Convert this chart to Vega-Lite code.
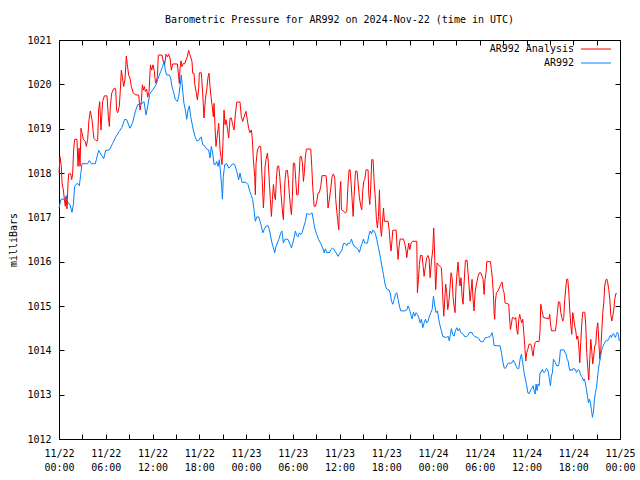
{
"$schema": "https://vega.github.io/schema/vega-lite/v6.json",
"width": 561, "height": 399,
"autosize": "none",
"padding": {"left": 59, "top": 40, "right": 20, "bottom": 41},
"background": "white",
"title": {"text": "Barometric Pressure for AR992 on 2024-Nov-22 (time in UTC)", "font": "DejaVu Sans Mono", "fontSize": 10, "fontWeight": "normal", "offset": 10, "color": "black"},
"config": {
 "view": {"stroke": "black", "strokeWidth": 1},
 "font": "DejaVu Sans Mono",
 "axis": {"domain": false, "grid": false, "ticks": true, "tickSize": -5, "tickColor": "black", "labelFont": "DejaVu Sans Mono", "labelFontSize": 10, "labelColor": "black", "titleFont": "DejaVu Sans Mono", "titleFontSize": 10, "titleFontWeight": "normal", "titleColor": "black"}
},
"datasets": {
"ana": [
{"h":0,"p":1018.00},{"h":0.13,"p":1018.37},{"h":0.30,"p":1018.15},{"h":0.39,"p":1017.77},{"h":0.56,"p":1017.62},{"h":0.69,"p":1017.40},{"h":0.81,"p":1017.25},{"h":0.90,"p":1017.47},{"h":1.03,"p":1017.19},{"h":1.16,"p":1017.77},{"h":1.24,"p":1017.98},{"h":1.50,"p":1017.98},{"h":1.63,"p":1017.85},{"h":1.75,"p":1017.98},{"h":1.88,"p":1018.52},{"h":2.01,"p":1018.76},{"h":2.31,"p":1018.76},{"h":2.44,"p":1018.15},{"h":2.57,"p":1018.56},{"h":2.70,"p":1018.15},{"h":2.82,"p":1019.01},{"h":2.95,"p":1018.91},{"h":3.12,"p":1018.76},{"h":3.38,"p":1018.71},{"h":3.51,"p":1018.60},{"h":3.68,"p":1018.76},{"h":3.85,"p":1019.20},{"h":4.02,"p":1019.40},{"h":4.24,"p":1019.20},{"h":4.36,"p":1018.97},{"h":4.49,"p":1018.78},{"h":4.75,"p":1018.73},{"h":4.96,"p":1018.73},{"h":5.09,"p":1019.42},{"h":5.22,"p":1019.61},{"h":5.39,"p":1018.97},{"h":5.60,"p":1019.61},{"h":5.82,"p":1019.74},{"h":6.16,"p":1019.74},{"h":6.33,"p":1019.29},{"h":6.46,"p":1019.05},{"h":6.59,"p":1019.50},{"h":6.76,"p":1019.80},{"h":7.02,"p":1019.90},{"h":7.27,"p":1019.90},{"h":7.40,"p":1019.41},{"h":7.53,"p":1019.36},{"h":7.74,"p":1019.50},{"h":7.87,"p":1019.87},{"h":8.00,"p":1020.32},{"h":8.13,"p":1020.17},{"h":8.30,"p":1019.95},{"h":8.47,"p":1020.10},{"h":8.64,"p":1020.64},{"h":8.77,"p":1020.44},{"h":8.94,"p":1020.21},{"h":9.11,"p":1020.14},{"h":9.28,"p":1019.95},{"h":9.54,"p":1019.80},{"h":9.88,"p":1019.76},{"h":10.23,"p":1019.76},{"h":10.40,"p":1019.42},{"h":10.57,"p":1019.61},{"h":10.70,"p":1019.99},{"h":10.83,"p":1019.87},{"h":10.96,"p":1019.95},{"h":11.08,"p":1019.84},{"h":11.26,"p":1019.89},{"h":11.38,"p":1019.71},{"h":11.56,"p":1019.84},{"h":11.73,"p":1020.44},{"h":11.90,"p":1020.32},{"h":12.07,"p":1020.44},{"h":12.24,"p":1020.29},{"h":12.37,"p":1020.06},{"h":12.45,"p":1020.02},{"h":12.62,"p":1020.17},{"h":12.75,"p":1020.66},{"h":13.22,"p":1020.66},{"h":13.39,"p":1020.51},{"h":13.56,"p":1020.44},{"h":13.73,"p":1020.68},{"h":13.91,"p":1020.62},{"h":14.08,"p":1020.68},{"h":14.25,"p":1020.59},{"h":14.42,"p":1020.32},{"h":14.59,"p":1020.46},{"h":15.19,"p":1020.46},{"h":15.36,"p":1020.17},{"h":15.45,"p":1020.02},{"h":15.53,"p":1020.36},{"h":15.66,"p":1020.53},{"h":15.79,"p":1020.40},{"h":15.96,"p":1020.47},{"h":16.13,"p":1020.46},{"h":16.30,"p":1020.55},{"h":16.47,"p":1020.62},{"h":16.64,"p":1020.77},{"h":16.73,"p":1020.70},{"h":16.90,"p":1020.62},{"h":17.07,"p":1020.51},{"h":17.16,"p":1020.25},{"h":17.33,"p":1020.25},{"h":17.41,"p":1020.02},{"h":17.59,"p":1019.84},{"h":17.76,"p":1019.65},{"h":17.93,"p":1019.91},{"h":18.01,"p":1020.26},{"h":18.27,"p":1020.26},{"h":18.44,"p":1019.80},{"h":18.61,"p":1019.24},{"h":18.78,"p":1019.65},{"h":18.95,"p":1019.87},{"h":19.13,"p":1020.17},{"h":19.25,"p":1020.25},{"h":19.38,"p":1019.95},{"h":19.51,"p":1019.72},{"h":19.64,"p":1019.54},{"h":19.81,"p":1019.27},{"h":19.90,"p":1019.57},{"h":20.02,"p":1019.05},{"h":20.15,"p":1018.60},{"h":20.32,"p":1018.86},{"h":20.50,"p":1019.12},{"h":20.67,"p":1018.52},{"h":20.79,"p":1018.37},{"h":20.92,"p":1018.19},{"h":21.05,"p":1018.71},{"h":21.18,"p":1019.42},{"h":21.31,"p":1019.09},{"h":21.44,"p":1019.20},{"h":21.61,"p":1019.01},{"h":21.78,"p":1018.79},{"h":21.95,"p":1019.24},{"h":22.12,"p":1019.24},{"h":22.29,"p":1019.09},{"h":22.46,"p":1018.97},{"h":22.63,"p":1019.31},{"h":22.81,"p":1019.60},{"h":23.23,"p":1019.60},{"h":23.40,"p":1019.27},{"h":23.57,"p":1019.16},{"h":23.83,"p":1019.31},{"h":24.00,"p":1019.39},{"h":24.17,"p":1019.20},{"h":24.34,"p":1019.01},{"h":24.51,"p":1018.91},{"h":24.69,"p":1018.97},{"h":24.82,"p":1018.75},{"h":24.95,"p":1018.30},{"h":25.12,"p":1017.92},{"h":25.20,"p":1017.51},{"h":25.29,"p":1018.22},{"h":25.46,"p":1018.52},{"h":25.68,"p":1018.60},{"h":25.89,"p":1018.60},{"h":26.02,"p":1018.07},{"h":26.15,"p":1017.55},{"h":26.23,"p":1017.21},{"h":26.32,"p":1017.47},{"h":26.45,"p":1018.15},{"h":26.57,"p":1018.30},{"h":26.75,"p":1018.45},{"h":26.87,"p":1018.22},{"h":27.00,"p":1017.77},{"h":27.13,"p":1017.40},{"h":27.26,"p":1017.02},{"h":27.39,"p":1017.40},{"h":27.52,"p":1017.74},{"h":27.64,"p":1017.51},{"h":27.77,"p":1017.40},{"h":27.90,"p":1017.85},{"h":28.03,"p":1018.15},{"h":28.20,"p":1018.16},{"h":28.33,"p":1017.92},{"h":28.46,"p":1017.62},{"h":28.59,"p":1017.32},{"h":28.71,"p":1017.06},{"h":28.80,"p":1016.95},{"h":28.88,"p":1017.32},{"h":29.01,"p":1017.85},{"h":29.14,"p":1018.06},{"h":29.31,"p":1018.06},{"h":29.44,"p":1017.85},{"h":29.57,"p":1017.51},{"h":29.70,"p":1017.25},{"h":29.83,"p":1017.06},{"h":29.95,"p":1017.47},{"h":30.08,"p":1018.22},{"h":30.25,"p":1018.22},{"h":30.38,"p":1017.85},{"h":30.51,"p":1017.51},{"h":30.68,"p":1017.51},{"h":30.81,"p":1017.92},{"h":30.94,"p":1018.37},{"h":31.11,"p":1018.37},{"h":31.24,"p":1018.22},{"h":31.37,"p":1017.81},{"h":31.50,"p":1018.04},{"h":31.62,"p":1018.37},{"h":31.75,"p":1018.54},{"h":32.31,"p":1018.54},{"h":32.44,"p":1018.15},{"h":32.56,"p":1017.70},{"h":32.74,"p":1017.25},{"h":32.91,"p":1017.25},{"h":33.08,"p":1017.36},{"h":33.25,"p":1017.55},{"h":33.42,"p":1017.56},{"h":33.59,"p":1017.70},{"h":33.76,"p":1017.94},{"h":34.28,"p":1017.94},{"h":34.40,"p":1017.66},{"h":34.53,"p":1017.21},{"h":34.70,"p":1017.40},{"h":34.88,"p":1017.66},{"h":35.05,"p":1017.92},{"h":35.22,"p":1017.98},{"h":35.39,"p":1017.89},{"h":35.52,"p":1017.40},{"h":35.65,"p":1017.14},{"h":35.82,"p":1016.85},{"h":35.91,"p":1016.72},{"h":36.03,"p":1017.51},{"h":36.16,"p":1017.81},{"h":36.25,"p":1017.17},{"h":36.50,"p":1017.14},{"h":36.76,"p":1017.10},{"h":36.93,"p":1017.14},{"h":37.10,"p":1017.77},{"h":37.23,"p":1018.07},{"h":37.36,"p":1018.07},{"h":37.49,"p":1017.77},{"h":37.62,"p":1017.40},{"h":37.75,"p":1017.02},{"h":37.87,"p":1017.47},{"h":38.05,"p":1018.04},{"h":38.26,"p":1018.04},{"h":38.39,"p":1017.77},{"h":38.56,"p":1017.44},{"h":38.73,"p":1017.25},{"h":38.86,"p":1017.17},{"h":38.99,"p":1017.62},{"h":39.11,"p":1017.81},{"h":39.24,"p":1017.85},{"h":39.41,"p":1018.07},{"h":39.67,"p":1018.07},{"h":39.76,"p":1017.51},{"h":39.89,"p":1017.29},{"h":40.01,"p":1017.70},{"h":40.14,"p":1018.30},{"h":40.31,"p":1018.30},{"h":40.44,"p":1017.81},{"h":40.61,"p":1017.40},{"h":40.74,"p":1016.95},{"h":40.87,"p":1016.76},{"h":41.00,"p":1017.02},{"h":41.13,"p":1017.62},{"h":41.25,"p":1016.80},{"h":41.38,"p":1016.57},{"h":41.51,"p":1016.87},{"h":41.64,"p":1017.21},{"h":41.77,"p":1016.91},{"h":42.24,"p":1016.91},{"h":42.37,"p":1016.72},{"h":42.50,"p":1016.42},{"h":42.62,"p":1016.24},{"h":42.75,"p":1016.50},{"h":42.84,"p":1016.71},{"h":43.27,"p":1016.71},{"h":43.39,"p":1016.35},{"h":43.52,"p":1016.05},{"h":43.65,"p":1016.35},{"h":43.78,"p":1016.51},{"h":44.21,"p":1016.51},{"h":44.38,"p":1016.41},{"h":44.55,"p":1016.24},{"h":44.63,"p":1016.09},{"h":44.76,"p":1016.27},{"h":44.89,"p":1016.42},{"h":45.02,"p":1016.27},{"h":45.19,"p":1016.42},{"h":45.40,"p":1016.46},{"h":45.92,"p":1016.46},{"h":46.00,"p":1015.30},{"h":46.13,"p":1015.60},{"h":46.26,"p":1015.94},{"h":46.39,"p":1016.14},{"h":46.60,"p":1016.14},{"h":46.73,"p":1015.90},{"h":46.86,"p":1015.67},{"h":47.03,"p":1015.90},{"h":47.20,"p":1016.09},{"h":47.37,"p":1016.14},{"h":47.50,"p":1016.06},{"h":47.63,"p":1015.64},{"h":47.80,"p":1016.01},{"h":47.97,"p":1016.27},{"h":48.09,"p":1016.76},{"h":48.18,"p":1016.35},{"h":48.27,"p":1015.75},{"h":48.35,"p":1015.37},{"h":48.44,"p":1015.71},{"h":48.52,"p":1015.97},{"h":48.65,"p":1015.94},{"h":49.08,"p":1015.86},{"h":49.16,"p":1015.60},{"h":49.29,"p":1015.07},{"h":49.38,"p":1014.77},{"h":49.51,"p":1015.15},{"h":49.63,"p":1015.49},{"h":49.76,"p":1015.30},{"h":49.89,"p":1014.92},{"h":50.02,"p":1015.07},{"h":50.15,"p":1015.34},{"h":50.32,"p":1015.75},{"h":50.45,"p":1015.64},{"h":50.58,"p":1015.19},{"h":50.70,"p":1015.00},{"h":50.83,"p":1014.85},{"h":50.96,"p":1015.45},{"h":51.09,"p":1015.75},{"h":51.22,"p":1015.99},{"h":51.35,"p":1015.64},{"h":51.47,"p":1015.45},{"h":51.60,"p":1015.64},{"h":51.73,"p":1015.22},{"h":51.86,"p":1015.04},{"h":51.99,"p":1015.52},{"h":52.16,"p":1016.03},{"h":52.37,"p":1016.03},{"h":52.50,"p":1015.75},{"h":52.63,"p":1015.45},{"h":52.76,"p":1015.11},{"h":52.89,"p":1015.34},{"h":53.01,"p":1015.60},{"h":53.14,"p":1015.15},{"h":53.27,"p":1014.89},{"h":53.40,"p":1015.30},{"h":53.53,"p":1015.45},{"h":53.66,"p":1015.56},{"h":53.79,"p":1015.67},{"h":53.96,"p":1015.75},{"h":54.13,"p":1015.75},{"h":54.30,"p":1015.67},{"h":54.43,"p":1015.60},{"h":54.56,"p":1015.26},{"h":54.68,"p":1015.60},{"h":54.81,"p":1015.75},{"h":54.90,"p":1016.00},{"h":55.37,"p":1016.00},{"h":55.50,"p":1015.82},{"h":55.63,"p":1015.60},{"h":55.75,"p":1015.26},{"h":55.84,"p":1014.85},{"h":55.92,"p":1014.70},{"h":56.01,"p":1015.11},{"h":56.14,"p":1015.30},{"h":56.35,"p":1015.34},{"h":56.52,"p":1015.41},{"h":56.69,"p":1015.49},{"h":56.87,"p":1015.54},{"h":56.99,"p":1015.37},{"h":57.12,"p":1015.30},{"h":57.25,"p":1015.07},{"h":57.72,"p":1015.04},{"h":57.81,"p":1014.77},{"h":57.94,"p":1014.47},{"h":58.06,"p":1014.59},{"h":58.19,"p":1014.74},{"h":58.32,"p":1014.74},{"h":58.49,"p":1014.70},{"h":58.62,"p":1014.74},{"h":58.75,"p":1014.47},{"h":58.88,"p":1014.36},{"h":59.01,"p":1014.70},{"h":59.13,"p":1014.81},{"h":59.26,"p":1014.70},{"h":59.39,"p":1014.62},{"h":59.52,"p":1014.70},{"h":59.65,"p":1014.40},{"h":59.78,"p":1014.10},{"h":59.90,"p":1013.76},{"h":60.03,"p":1013.95},{"h":60.16,"p":1014.02},{"h":60.33,"p":1014.14},{"h":60.55,"p":1014.14},{"h":60.67,"p":1014.08},{"h":60.72,"p":1013.99},{"h":60.85,"p":1013.87},{"h":60.97,"p":1014.06},{"h":61.10,"p":1014.17},{"h":61.23,"p":1014.20},{"h":61.62,"p":1014.20},{"h":61.74,"p":1014.44},{"h":61.83,"p":1015.04},{"h":61.96,"p":1014.92},{"h":62.09,"p":1014.81},{"h":62.17,"p":1014.74},{"h":62.86,"p":1014.71},{"h":62.98,"p":1014.81},{"h":63.07,"p":1014.62},{"h":63.20,"p":1014.44},{"h":63.71,"p":1014.44},{"h":63.84,"p":1014.62},{"h":63.97,"p":1014.85},{"h":64.10,"p":1015.09},{"h":64.27,"p":1015.09},{"h":64.40,"p":1014.85},{"h":64.53,"p":1014.74},{"h":64.65,"p":1014.66},{"h":64.78,"p":1014.74},{"h":64.91,"p":1015.15},{"h":65.04,"p":1015.41},{"h":65.17,"p":1015.61},{"h":65.30,"p":1015.60},{"h":65.42,"p":1015.34},{"h":65.55,"p":1014.92},{"h":65.68,"p":1014.59},{"h":65.81,"p":1014.36},{"h":65.94,"p":1014.85},{"h":66.07,"p":1014.70},{"h":66.19,"p":1014.55},{"h":66.32,"p":1014.44},{"h":66.45,"p":1014.25},{"h":66.58,"p":1014.32},{"h":66.71,"p":1014.10},{"h":66.84,"p":1013.72},{"h":66.96,"p":1014.17},{"h":67.09,"p":1014.59},{"h":67.22,"p":1014.86},{"h":67.48,"p":1014.86},{"h":67.61,"p":1014.55},{"h":67.73,"p":1013.95},{"h":67.86,"p":1013.61},{"h":67.99,"p":1013.33},{"h":68.12,"p":1013.80},{"h":68.25,"p":1014.25},{"h":68.38,"p":1013.99},{"h":68.50,"p":1013.69},{"h":68.63,"p":1013.87},{"h":68.76,"p":1014.10},{"h":68.89,"p":1014.14},{"h":69.02,"p":1014.47},{"h":69.15,"p":1014.62},{"h":69.27,"p":1014.25},{"h":69.40,"p":1013.80},{"h":69.53,"p":1013.99},{"h":69.66,"p":1014.44},{"h":69.79,"p":1014.85},{"h":69.92,"p":1015.07},{"h":70.04,"p":1015.45},{"h":70.17,"p":1015.58},{"h":70.30,"p":1015.61},{"h":70.43,"p":1015.52},{"h":70.56,"p":1015.37},{"h":70.69,"p":1015.15},{"h":70.82,"p":1014.81},{"h":70.94,"p":1014.66},{"h":71.07,"p":1014.77},{"h":71.20,"p":1014.92},{"h":71.33,"p":1015.15},{"h":71.46,"p":1015.28},{"h":71.59,"p":1015.28}
],
"obs": [
{"h":0,"p":1017.21},{"h":0.26,"p":1017.41},{"h":0.81,"p":1017.41},{"h":0.98,"p":1017.49},{"h":1.16,"p":1017.32},{"h":1.41,"p":1017.29},{"h":1.67,"p":1017.11},{"h":1.84,"p":1017.29},{"h":2.01,"p":1017.70},{"h":2.35,"p":1017.77},{"h":2.61,"p":1017.71},{"h":2.78,"p":1017.96},{"h":2.95,"p":1018.21},{"h":3.68,"p":1018.21},{"h":3.89,"p":1018.28},{"h":4.15,"p":1018.21},{"h":4.66,"p":1018.21},{"h":5.09,"p":1018.51},{"h":5.43,"p":1018.41},{"h":5.73,"p":1018.32},{"h":5.99,"p":1018.51},{"h":6.46,"p":1018.52},{"h":6.89,"p":1018.67},{"h":7.31,"p":1018.82},{"h":7.74,"p":1018.94},{"h":8.08,"p":1019.03},{"h":8.43,"p":1019.21},{"h":8.69,"p":1019.20},{"h":9.11,"p":1019.01},{"h":9.46,"p":1019.14},{"h":9.80,"p":1019.39},{"h":10.10,"p":1019.54},{"h":10.40,"p":1019.56},{"h":10.65,"p":1019.57},{"h":10.91,"p":1019.61},{"h":11.17,"p":1019.31},{"h":11.42,"p":1019.54},{"h":11.68,"p":1019.80},{"h":12.02,"p":1019.87},{"h":12.45,"p":1019.99},{"h":12.79,"p":1020.17},{"h":13.05,"p":1020.29},{"h":13.31,"p":1020.40},{"h":13.48,"p":1020.53},{"h":13.65,"p":1020.32},{"h":13.82,"p":1020.21},{"h":14.16,"p":1020.21},{"h":14.33,"p":1020.14},{"h":14.50,"p":1019.95},{"h":14.68,"p":1019.84},{"h":14.93,"p":1019.66},{"h":15.19,"p":1019.61},{"h":15.36,"p":1019.72},{"h":15.53,"p":1019.95},{"h":15.70,"p":1020.21},{"h":15.87,"p":1019.87},{"h":16.04,"p":1019.57},{"h":16.22,"p":1019.42},{"h":16.39,"p":1019.21},{"h":16.56,"p":1019.42},{"h":16.73,"p":1019.51},{"h":16.90,"p":1019.27},{"h":17.07,"p":1019.12},{"h":17.24,"p":1018.97},{"h":17.46,"p":1018.82},{"h":17.67,"p":1018.73},{"h":17.93,"p":1018.73},{"h":18.10,"p":1018.79},{"h":18.27,"p":1018.81},{"h":18.44,"p":1018.64},{"h":18.70,"p":1018.61},{"h":18.95,"p":1018.54},{"h":19.21,"p":1018.52},{"h":19.38,"p":1018.34},{"h":19.55,"p":1018.60},{"h":19.72,"p":1018.45},{"h":19.90,"p":1018.19},{"h":20.07,"p":1018.19},{"h":20.24,"p":1018.26},{"h":20.41,"p":1018.15},{"h":20.58,"p":1018.30},{"h":20.75,"p":1017.96},{"h":20.88,"p":1017.70},{"h":20.97,"p":1017.41},{"h":21.09,"p":1017.92},{"h":21.27,"p":1018.19},{"h":21.52,"p":1018.21},{"h":21.78,"p":1018.11},{"h":22.04,"p":1018.15},{"h":22.29,"p":1018.21},{"h":22.55,"p":1018.19},{"h":22.81,"p":1018.04},{"h":23.06,"p":1017.85},{"h":23.23,"p":1018.00},{"h":23.49,"p":1017.79},{"h":24.00,"p":1017.79},{"h":24.26,"p":1017.74},{"h":24.47,"p":1017.59},{"h":24.69,"p":1017.49},{"h":24.86,"p":1017.40},{"h":25.03,"p":1017.17},{"h":25.20,"p":1016.91},{"h":25.38,"p":1017.01},{"h":25.63,"p":1017.01},{"h":25.80,"p":1016.91},{"h":25.98,"p":1016.80},{"h":26.15,"p":1016.65},{"h":26.32,"p":1016.72},{"h":26.57,"p":1016.80},{"h":26.83,"p":1016.81},{"h":27.00,"p":1016.72},{"h":27.17,"p":1016.57},{"h":27.34,"p":1016.42},{"h":27.52,"p":1016.31},{"h":27.69,"p":1016.20},{"h":27.86,"p":1016.35},{"h":28.03,"p":1016.42},{"h":28.20,"p":1016.50},{"h":28.46,"p":1016.65},{"h":28.63,"p":1016.69},{"h":28.80,"p":1016.42},{"h":28.97,"p":1016.50},{"h":29.14,"p":1016.51},{"h":29.40,"p":1016.50},{"h":29.66,"p":1016.39},{"h":29.83,"p":1016.31},{"h":30.00,"p":1016.42},{"h":30.17,"p":1016.54},{"h":30.34,"p":1016.69},{"h":30.51,"p":1016.59},{"h":30.68,"p":1016.56},{"h":30.85,"p":1016.65},{"h":31.02,"p":1016.61},{"h":31.20,"p":1016.65},{"h":31.37,"p":1016.76},{"h":31.62,"p":1016.91},{"h":31.79,"p":1017.08},{"h":31.97,"p":1017.08},{"h":32.14,"p":1017.06},{"h":32.31,"p":1017.08},{"h":32.48,"p":1017.10},{"h":32.65,"p":1016.93},{"h":32.82,"p":1016.76},{"h":33.08,"p":1016.61},{"h":33.33,"p":1016.50},{"h":33.59,"p":1016.41},{"h":33.85,"p":1016.31},{"h":34.02,"p":1016.20},{"h":34.19,"p":1016.29},{"h":34.36,"p":1016.20},{"h":34.53,"p":1016.21},{"h":34.70,"p":1016.20},{"h":34.88,"p":1016.27},{"h":35.13,"p":1016.31},{"h":35.30,"p":1016.27},{"h":35.56,"p":1016.20},{"h":35.82,"p":1016.12},{"h":36.07,"p":1016.20},{"h":36.33,"p":1016.27},{"h":36.50,"p":1016.41},{"h":36.76,"p":1016.41},{"h":36.93,"p":1016.36},{"h":37.10,"p":1016.42},{"h":37.27,"p":1016.41},{"h":37.45,"p":1016.46},{"h":37.53,"p":1016.51},{"h":37.70,"p":1016.41},{"h":37.87,"p":1016.35},{"h":38.22,"p":1016.31},{"h":38.39,"p":1016.27},{"h":38.56,"p":1016.21},{"h":38.73,"p":1016.33},{"h":38.90,"p":1016.41},{"h":39.07,"p":1016.51},{"h":39.24,"p":1016.42},{"h":39.59,"p":1016.42},{"h":39.76,"p":1016.59},{"h":39.93,"p":1016.69},{"h":40.10,"p":1016.63},{"h":40.27,"p":1016.71},{"h":40.44,"p":1016.69},{"h":40.61,"p":1016.63},{"h":40.78,"p":1016.50},{"h":40.96,"p":1016.35},{"h":41.13,"p":1016.20},{"h":41.30,"p":1016.05},{"h":41.47,"p":1015.86},{"h":41.64,"p":1015.71},{"h":41.81,"p":1015.52},{"h":41.98,"p":1015.41},{"h":42.15,"p":1015.37},{"h":42.32,"p":1015.37},{"h":42.50,"p":1015.30},{"h":42.67,"p":1015.11},{"h":42.84,"p":1015.04},{"h":43.01,"p":1015.15},{"h":43.18,"p":1015.26},{"h":43.35,"p":1015.30},{"h":43.52,"p":1015.15},{"h":43.69,"p":1015.00},{"h":43.86,"p":1014.89},{"h":44.38,"p":1014.89},{"h":44.63,"p":1014.91},{"h":44.81,"p":1015.00},{"h":44.98,"p":1014.92},{"h":45.15,"p":1014.81},{"h":45.32,"p":1014.71},{"h":45.49,"p":1014.86},{"h":45.66,"p":1014.77},{"h":45.83,"p":1014.85},{"h":46.00,"p":1014.81},{"h":46.18,"p":1014.74},{"h":46.35,"p":1014.62},{"h":46.52,"p":1014.70},{"h":46.69,"p":1014.51},{"h":46.86,"p":1014.62},{"h":47.03,"p":1014.70},{"h":47.20,"p":1014.62},{"h":47.37,"p":1014.66},{"h":47.54,"p":1014.77},{"h":47.72,"p":1014.85},{"h":47.89,"p":1014.92},{"h":48.06,"p":1015.22},{"h":48.23,"p":1015.00},{"h":48.40,"p":1014.85},{"h":48.57,"p":1014.89},{"h":48.74,"p":1014.70},{"h":48.91,"p":1014.55},{"h":49.08,"p":1014.44},{"h":49.25,"p":1014.31},{"h":49.76,"p":1014.29},{"h":49.93,"p":1014.32},{"h":50.10,"p":1014.21},{"h":50.23,"p":1014.36},{"h":50.36,"p":1014.49},{"h":50.53,"p":1014.36},{"h":50.70,"p":1014.32},{"h":50.88,"p":1014.44},{"h":51.05,"p":1014.51},{"h":51.22,"p":1014.44},{"h":51.39,"p":1014.49},{"h":51.56,"p":1014.40},{"h":51.90,"p":1014.36},{"h":52.07,"p":1014.31},{"h":52.33,"p":1014.31},{"h":52.50,"p":1014.34},{"h":52.67,"p":1014.40},{"h":53.01,"p":1014.40},{"h":53.19,"p":1014.34},{"h":53.36,"p":1014.31},{"h":53.70,"p":1014.29},{"h":53.87,"p":1014.27},{"h":54.04,"p":1014.21},{"h":54.38,"p":1014.19},{"h":54.56,"p":1014.23},{"h":54.73,"p":1014.29},{"h":54.98,"p":1014.29},{"h":55.33,"p":1014.31},{"h":55.50,"p":1014.36},{"h":55.58,"p":1014.40},{"h":55.71,"p":1014.29},{"h":55.84,"p":1014.11},{"h":56.61,"p":1014.10},{"h":56.78,"p":1013.95},{"h":56.95,"p":1013.76},{"h":57.12,"p":1013.61},{"h":57.29,"p":1013.59},{"h":57.46,"p":1013.65},{"h":57.64,"p":1013.71},{"h":57.98,"p":1013.71},{"h":58.15,"p":1013.72},{"h":58.32,"p":1013.78},{"h":58.49,"p":1013.72},{"h":58.66,"p":1013.65},{"h":58.83,"p":1013.59},{"h":59.01,"p":1013.59},{"h":59.18,"p":1013.80},{"h":59.35,"p":1013.91},{"h":59.52,"p":1013.72},{"h":59.69,"p":1013.50},{"h":59.86,"p":1013.35},{"h":60.03,"p":1013.20},{"h":60.20,"p":1013.03},{"h":60.37,"p":1013.03},{"h":60.55,"p":1013.11},{"h":60.67,"p":1013.14},{"h":60.85,"p":1013.20},{"h":60.97,"p":1013.09},{"h":61.10,"p":1013.01},{"h":61.23,"p":1013.24},{"h":61.36,"p":1013.09},{"h":61.49,"p":1013.24},{"h":61.62,"p":1013.20},{"h":61.74,"p":1013.50},{"h":61.91,"p":1013.51},{"h":62.04,"p":1013.57},{"h":62.17,"p":1013.51},{"h":62.30,"p":1013.50},{"h":62.43,"p":1013.54},{"h":62.56,"p":1013.59},{"h":62.69,"p":1013.57},{"h":62.81,"p":1013.50},{"h":62.94,"p":1013.35},{"h":63.07,"p":1013.20},{"h":63.20,"p":1013.42},{"h":63.33,"p":1013.50},{"h":63.46,"p":1013.80},{"h":63.58,"p":1013.76},{"h":63.71,"p":1013.72},{"h":63.84,"p":1013.66},{"h":64.10,"p":1013.65},{"h":64.23,"p":1013.76},{"h":64.35,"p":1014.01},{"h":64.82,"p":1014.01},{"h":64.95,"p":1013.95},{"h":65.08,"p":1013.91},{"h":65.21,"p":1013.80},{"h":65.34,"p":1013.76},{"h":65.47,"p":1013.61},{"h":65.59,"p":1013.54},{"h":65.72,"p":1013.57},{"h":65.85,"p":1013.54},{"h":65.98,"p":1013.59},{"h":66.28,"p":1013.57},{"h":66.41,"p":1013.50},{"h":66.54,"p":1013.54},{"h":66.66,"p":1013.57},{"h":66.79,"p":1013.54},{"h":66.92,"p":1013.46},{"h":67.05,"p":1013.41},{"h":67.18,"p":1013.39},{"h":67.31,"p":1013.31},{"h":67.43,"p":1013.35},{"h":67.56,"p":1013.26},{"h":67.69,"p":1013.12},{"h":67.82,"p":1012.97},{"h":67.95,"p":1012.82},{"h":68.08,"p":1012.90},{"h":68.21,"p":1012.81},{"h":68.33,"p":1012.67},{"h":68.46,"p":1012.49},{"h":68.59,"p":1012.60},{"h":68.72,"p":1012.90},{"h":68.85,"p":1013.05},{"h":68.98,"p":1013.16},{"h":69.10,"p":1013.35},{"h":69.23,"p":1013.57},{"h":69.36,"p":1013.72},{"h":69.49,"p":1013.84},{"h":69.62,"p":1013.99},{"h":69.75,"p":1014.06},{"h":69.87,"p":1014.11},{"h":70.00,"p":1014.16},{"h":70.13,"p":1014.21},{"h":70.26,"p":1014.23},{"h":70.39,"p":1014.21},{"h":70.52,"p":1014.25},{"h":70.64,"p":1014.29},{"h":70.77,"p":1014.34},{"h":70.90,"p":1014.29},{"h":71.03,"p":1014.36},{"h":71.16,"p":1014.38},{"h":71.29,"p":1014.32},{"h":71.41,"p":1014.29},{"h":71.54,"p":1014.36},{"h":71.67,"p":1014.41},{"h":71.80,"p":1014.36},{"h":71.90,"p":1014.21}
]
},
"layer": [
 {"data": {"name": "ana"},
  "mark": {"type": "line", "strokeWidth": 1},
  "encoding": {
   "x": {"field": "h", "type": "quantitative", "scale": {"domain": [0, 72], "nice": false, "zero": false},
    "axis": {"orient": "bottom", "title": null, "values": [0,3,6,9,12,15,18,21,24,27,30,33,36,39,42,45,48,51,54,57,60,63,66,69,72], "labelExpr": "datum.value % 6 == 0 ? ['11/' + (22 + floor(datum.value / 24)), (datum.value % 24 < 10 ? '0' : '') + (datum.value % 24) + ':00'] : ''", "labelLineHeight": 14, "labelPadding": 14, "labelFlush": false, "labelOverlap": false}},
   "y": {"field": "p", "type": "quantitative", "scale": {"domain": [1012, 1021], "nice": false, "zero": false},
    "axis": {"orient": "left", "title": "milliBars", "values": [1012,1013,1014,1015,1016,1017,1018,1019,1020,1021], "format": "d", "labelPadding": 13, "titlePadding": 8, "labelFlush": false, "labelOverlap": false}},
   "color": {"datum": "AR992 Analysis", "type": "nominal", "scale": {"domain": ["AR992 Analysis", "AR992"], "range": ["#ff0000", "#0080ff"]},
    "legend": {"title": null, "orient": "none", "legendX": 529, "legendY": 1, "symbolType": "M-2.12,0H2.12", "symbolFillColor": "transparent", "symbolStrokeWidth": 1, "symbolSize": 200, "labelAlign": "right", "labelOffset": -30, "labelFont": "DejaVu Sans Mono", "labelFontSize": 10, "labelColor": "black", "rowPadding": 1, "padding": 0}}
  }},
 {"data": {"name": "obs"},
  "mark": {"type": "line", "strokeWidth": 1},
  "encoding": {
   "x": {"field": "h", "type": "quantitative", "axis": {"orient": "top", "title": null, "labels": false, "values": [0,3,6,9,12,15,18,21,24,27,30,33,36,39,42,45,48,51,54,57,60,63,66,69,72]}},
   "y": {"field": "p", "type": "quantitative", "axis": {"orient": "right", "title": null, "labels": false, "values": [1012,1013,1014,1015,1016,1017,1018,1019,1020,1021]}},
   "color": {"datum": "AR992", "type": "nominal"}
  }}
]
}
